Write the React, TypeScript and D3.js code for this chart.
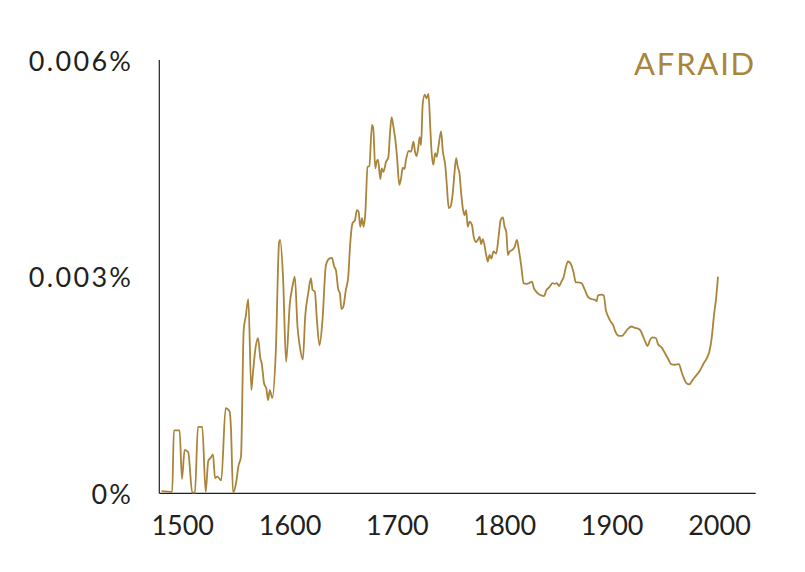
import React from "react";
import * as d3 from "d3";

const title = "AFRAID";
const years: number[] = [
  1480.3, 1490.2, 1491.8, 1497.1, 1499.3, 1501.8, 1505.1, 1508.9, 1511.4, 1514.2,
  1518.2, 1521.4, 1523.8, 1526.0, 1528.2, 1530.1, 1532.2, 1535.9, 1540.0, 1543.8,
  1545.0, 1546.9, 1549.9, 1551.8, 1554.3, 1556.8, 1558.7, 1561.1, 1563.9, 1565.5,
  1568.0, 1570.2, 1572.3, 1573.6, 1575.8, 1577.9, 1579.5, 1581.1, 1583.5, 1586.7,
  1589.8, 1590.7, 1593.5, 1596.3, 1599.8, 1602.2, 1604.4, 1606.9, 1609.1, 1611.9,
  1614.1, 1616.9, 1619.4, 1620.9, 1623.1, 1625.0, 1627.4, 1630.2, 1633.4, 1636.5,
  1639.0, 1641.1, 1642.7, 1644.9, 1646.4, 1647.9, 1649.5, 1652.0, 1654.2, 1655.8,
  1658.2, 1660.4, 1662.3, 1663.8, 1665.4, 1667.0, 1668.5, 1670.1, 1672.2, 1673.8,
  1676.3, 1677.5, 1679.4, 1680.6, 1681.9, 1684.1, 1685.3, 1686.9, 1689.4, 1691.5,
  1693.1, 1694.6, 1696.2, 1698.1, 1699.6, 1701.8, 1703.4, 1704.9, 1706.5, 1708.0,
  1710.5, 1712.7, 1714.9, 1716.4, 1717.9, 1719.5, 1720.7, 1722.0, 1723.5, 1725.4,
  1727.0, 1728.9, 1730.7, 1731.9, 1733.5, 1735.1, 1736.6, 1738.2, 1740.7, 1742.2,
  1744.7, 1745.9, 1747.8, 1749.4, 1751.5, 1753.1, 1754.7, 1756.2, 1757.8, 1759.4,
  1760.9, 1762.5, 1764.0, 1765.5, 1767.1, 1769.3, 1771.1, 1773.4, 1774.9, 1776.5,
  1778.0, 1779.5, 1782.7, 1784.2, 1785.8, 1787.4, 1789.5, 1792.0, 1794.2, 1796.1,
  1798.2, 1799.8, 1801.4, 1802.9, 1804.5, 1807.0, 1809.1, 1811.3, 1813.1, 1815.4,
  1817.5, 1820.0, 1822.5, 1825.3, 1827.1, 1829.4, 1831.5, 1834.0, 1836.5, 1838.7,
  1841.8, 1844.3, 1846.5, 1848.6, 1850.5, 1852.7, 1854.9, 1856.7, 1858.9, 1862.0,
  1864.2, 1866.1, 1868.2, 1871.4, 1874.5, 1877.5, 1880.7, 1883.8, 1885.4, 1886.9,
  1890.1, 1892.2, 1894.1, 1896.2, 1898.5, 1900.9, 1902.5, 1904.0, 1906.5, 1909.3,
  1911.8, 1914.9, 1918.1, 1921.2, 1924.2, 1926.5, 1928.9, 1931.1, 1933.0, 1935.2,
  1937.3, 1940.8, 1942.9, 1946.1, 1949.2, 1952.2, 1954.8, 1958.5, 1962.2, 1964.7,
  1966.9, 1969.4, 1971.8, 1975.0, 1978.7, 1981.8, 1984.9, 1988.1, 1990.5, 1992.7,
  1994.9, 1996.8, 1998.6,
];
const values: number[] = [
  0.00003, 0.00002, 0.00087, 0.00087, 0.0002, 0.0006, 0.00057, 0.00001, 0.00001, 0.00092,
  0.00092, 0.00002, 0.00045, 0.00049, 0.00054, 0.00021, 0.00023, 0.00018, 0.00118, 0.00113,
  0.00088, 0.00001, 0.00016, 0.00037, 0.00051, 0.00226, 0.00245, 0.00269, 0.00143, 0.00168,
  0.00203, 0.00215, 0.00187, 0.0018, 0.00152, 0.00145, 0.00129, 0.00143, 0.00132, 0.00196,
  0.00348, 0.00351, 0.00298, 0.00182, 0.00263, 0.00286, 0.003, 0.00231, 0.00203, 0.00185,
  0.00245, 0.00277, 0.00298, 0.00282, 0.00279, 0.0024, 0.00205, 0.0024, 0.00316, 0.00325,
  0.00326, 0.00314, 0.00309, 0.00282, 0.00277, 0.00255, 0.00258, 0.00282, 0.003, 0.00341,
  0.00374, 0.00378, 0.00392, 0.0039, 0.00369, 0.00381, 0.00369, 0.00388, 0.00452, 0.00453,
  0.0051, 0.00505, 0.0045, 0.00459, 0.00462, 0.00435, 0.0045, 0.00445, 0.00459, 0.00465,
  0.00499, 0.00521, 0.00508, 0.00489, 0.00466, 0.00427, 0.00436, 0.00451, 0.00449, 0.00462,
  0.00474, 0.00473, 0.00487, 0.00473, 0.00467, 0.0048, 0.00493, 0.00482, 0.00538, 0.00552,
  0.00547, 0.00553, 0.00503, 0.00471, 0.00455, 0.00471, 0.00466, 0.0048, 0.00501, 0.00475,
  0.00452, 0.00429, 0.00395, 0.00397, 0.00415, 0.00443, 0.00464, 0.00452, 0.00443, 0.00415,
  0.00395, 0.00385, 0.00392, 0.00369, 0.00376, 0.00372, 0.00355, 0.00348, 0.00351, 0.00355,
  0.00345, 0.00352, 0.0033, 0.00321, 0.0033, 0.00325, 0.00335, 0.00332, 0.00355, 0.00378,
  0.00382, 0.00369, 0.00362, 0.0033, 0.00335, 0.00337, 0.00341, 0.00351, 0.00337, 0.00314,
  0.00291, 0.0029, 0.00291, 0.00293, 0.00284, 0.00279, 0.00276, 0.00274, 0.00273, 0.00281,
  0.00286, 0.00291, 0.0029, 0.00291, 0.00287, 0.00293, 0.003, 0.00312, 0.00321, 0.00316,
  0.00305, 0.00292, 0.00292, 0.00291, 0.00282, 0.00272, 0.00269, 0.00268, 0.00266, 0.00274,
  0.00275, 0.00274, 0.00254, 0.00245, 0.00238, 0.00233, 0.00226, 0.00221, 0.00218, 0.00218,
  0.00222, 0.00228, 0.00231, 0.00229, 0.00228, 0.00225, 0.00217, 0.00209, 0.00204, 0.00212,
  0.00216, 0.00215, 0.00206, 0.00202, 0.00194, 0.00186, 0.00179, 0.00178, 0.00179, 0.00168,
  0.00159, 0.00152, 0.00151, 0.00157, 0.00164, 0.0017, 0.00179, 0.00187, 0.00196, 0.00215,
  0.00247, 0.0027, 0.003,
];
const xTicks: number[] = [1500, 1600, 1700, 1800, 1900, 2000];
const yTicks: number[] = [0, 0.003, 0.006];
const yTickLabels: string[] = ["0%", "0.003%", "0.006%"];

const W = 805;
const H = 572;
const GOLD = "#a9843a";
const INK = "#231f20";
const FONT = "Lato, 'Open Sans', sans-serif";
const Y_SPACING = 2.3;

export default function App() {
  const x = d3.scaleLinear().domain([1478.2, 2033.7]).range([159.3, 755.7]);
  const y = d3.scaleLinear().domain([0, 0.006]).range([493.3, 60]);
  const pts: [number, number][] = years.map((yr, i) => [yr, values[i]]);
  const line = d3
    .line<[number, number]>()
    .x((d) => x(d[0]))
    .y((d) => y(d[1]))
    .curve(d3.curveMonotoneX);
  const [x0, x1] = x.range();
  const [yb, yt] = y.range();
  return (
    <svg
      width={W}
      height={H}
      style={{ position: "absolute", left: 0, top: 0, background: "#fff" }}
    >
      <line x1={x0} x2={x0} y1={yt} y2={yb} stroke={INK} strokeWidth={1.2} />
      <line x1={x0} x2={x1} y1={yb} y2={yb} stroke={INK} strokeWidth={1.2} />
      <path d={line(pts) || ""} fill="none" stroke={GOLD} strokeWidth={1.8} strokeLinejoin="round" />
      {yTicks.map((t, i) => (
        <text
          key={"y" + t}
          x={131 + Y_SPACING}
          y={y(t) + 10.7}
          textAnchor="end"
          fontFamily={FONT}
          fontSize={27}
          letterSpacing={Y_SPACING}
          fill={INK}
        >
          {yTickLabels[i]}
        </text>
      ))}
      {xTicks.map((t) => (
        <text
          key={"x" + t}
          x={x(t)}
          y={yb + 41.7}
          textAnchor="middle"
          fontFamily={FONT}
          fontSize={27}
          fill={INK}
        >
          {t}
        </text>
      ))}
      <text
        x={756}
        y={75}
        textAnchor="end"
        fontFamily={FONT}
        fontSize={31}
        letterSpacing={1.8}
        fill={GOLD}
      >
        {title}
      </text>
    </svg>
  );
}
